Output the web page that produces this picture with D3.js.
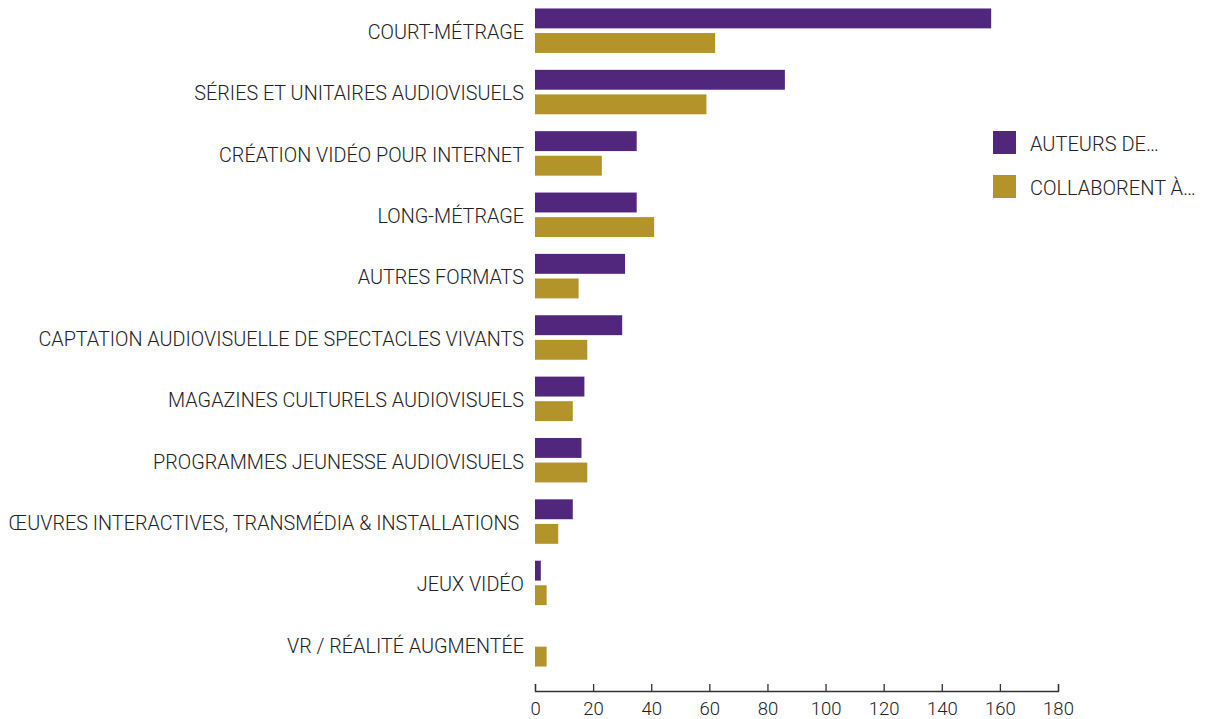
<!DOCTYPE html>
<html>
<head>
<meta charset="utf-8">
<script src="https://cdn.jsdelivr.net/npm/d3@7"></script>
<style>
    html, body { margin: 0; padding: 0; background: #fff; }
    svg { display: block; }
    text { font-family: Roboto, "Noto Sans", sans-serif; font-weight: 300; fill: #222; }
</style>
</head>
<body>
<svg id="chart" width="1207" height="719"></svg>
<script>
// Categories, top to bottom
const categories = [
    "COURT-MÉTRAGE",
    "SÉRIES ET UNITAIRES AUDIOVISUELS",
    "CRÉATION VIDÉO POUR INTERNET",
    "LONG-MÉTRAGE",
    "AUTRES FORMATS",
    "CAPTATION AUDIOVISUELLE DE SPECTACLES VIVANTS",
    "MAGAZINES CULTURELS AUDIOVISUELS",
    "PROGRAMMES JEUNESSE AUDIOVISUELS",
    "ŒUVRES INTERACTIVES, TRANSMÉDIA & INSTALLATIONS ",
    "JEUX VIDÉO",
    "VR / RÉALITÉ AUGMENTÉE"
];

// Series
const seriesNames = ["AUTEURS DE…", "COLLABORENT À…"];
const auteursValues = [157, 86, 35, 35, 31, 30, 17, 16, 13, 2, 0];
const collaborentValues = [62, 59, 23, 41, 15, 18, 13, 18, 8, 4, 4];
const seriesColors = ["#51267d", "#b3942a"];

// Axis ticks
const tickValues = [0, 20, 40, 60, 80, 100, 120, 140, 160, 180];

const rows = categories.map((c, i) => ({
    category: c,
    values: [auteursValues[i], collaborentValues[i]]
}));

const svg = d3.select("#chart");

// Scales
const x = d3.scaleLinear().domain([0, 180]).range([535, 1058]);

const y0 = d3.scaleBand()
    .domain(categories)
    .range([0, 675])
    .paddingInner(0.275)
    .paddingOuter(0.138);

const y1 = d3.scaleBand()
    .domain(d3.range(seriesNames.length))
    .range([0, y0.bandwidth()])
    .paddingInner(0.19);

// Bars
const groups = svg.append("g")
    .selectAll("g.row")
    .data(rows)
    .join("g")
        .classed("row", true)
        .attr("transform", d => `translate(0,${y0(d.category)})`);

groups.selectAll("rect")
    .data(d => d.values.map((v, k) => ({ v, k })))
    .join("rect")
        .attr("x", x(0))
        .attr("y", d => y1(d.k))
        .attr("width", d => x(d.v) - x(0))
        .attr("height", y1.bandwidth())
        .attr("fill", d => seriesColors[d.k]);

// Category labels
svg.append("g")
    .selectAll("text")
    .data(categories)
    .join("text")
        .attr("x", 524)
        .attr("y", d => y0(d) + y0.bandwidth() / 2)
        .attr("dy", "0.42em")
        .attr("text-anchor", "end")
        .attr("font-size", 19.8)
        .style("white-space", "pre")
        .text(d => d);

// X axis (ticks pointing up)
const axis = svg.append("g")
    .attr("transform", "translate(0,691)")
    .call(d3.axisBottom(x).tickValues(tickValues).tickSize(-7).tickPadding(11));

axis.select(".domain").attr("stroke", "#333").attr("stroke-width", 1.3);
axis.selectAll(".tick line").attr("stroke", "#333").attr("stroke-width", 1.3);
axis.selectAll(".tick text")
    .attr("font-size", 18.5)
    .attr("font-family", "Roboto, sans-serif")
    .attr("font-weight", 300)
    .attr("fill", "#222");

// Legend
const legend = svg.append("g")
    .attr("transform", "translate(993,131)")
    .selectAll("g")
    .data(seriesNames)
    .join("g")
        .attr("transform", (d, i) => `translate(0,${i * 44})`);

legend.append("rect")
    .attr("width", 23)
    .attr("height", 23)
    .attr("fill", (d, i) => seriesColors[i]);

legend.append("text")
    .attr("x", 37)
    .attr("y", 11.5)
    .attr("dy", "0.4em")
    .attr("font-size", 20)
    .text(d => d);
</script>
</body>
</html>
